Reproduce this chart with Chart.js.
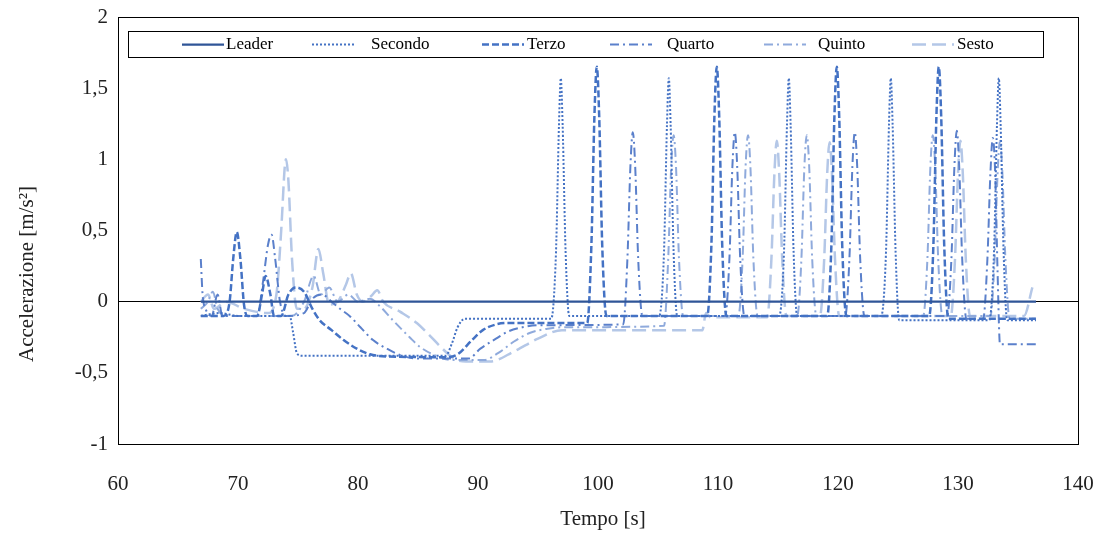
<!DOCTYPE html>
<html>
<head>
<meta charset="utf-8">
<script src="https://cdn.jsdelivr.net/npm/chart.js@4.4.0/dist/chart.umd.min.js"></script>
<style>
  body { margin: 0; background: #fff; }
  #wrap { width: 1107px; height: 535px; }
</style>
</head>
<body>
<div id="wrap"><canvas id="accel"></canvas></div>
<script>
// tempo [s], accelerazione [m/s2]
const seriesNames = ["Leader", "Secondo", "Terzo", "Quarto", "Quinto", "Sesto"];
const xTickValues = [60, 70, 80, 90, 100, 110, 120, 130, 140];
const xTickLabels = ["60", "70", "80", "90", "100", "110", "120", "130", "140"];
const yTickValues = [-1, -0.5, 0, 0.5, 1, 1.5, 2];
const yTickLabels = ["-1", "-0,5", "0", "0,5", "1", "1,5", "2"];

const leader = [[66.9, 0], [136.5, 0]];

const secondo = [
  [66.9, -0.1], [68.5, -0.08], [70, -0.1], [74.3, -0.1], [74.6, -0.22], [74.9, -0.36], [75.3, -0.38],
  [87.3, -0.38], [87.8, -0.3], [88.3, -0.18], [88.9, -0.12],
  [96.1, -0.12], [96.5, 0.35], [96.75, 1.25], [96.9, 1.57], [97.05, 1.25], [97.3, 0.35], [97.6, -0.1],
  [105.1, -0.1], [105.5, 0.35], [105.75, 1.25], [105.9, 1.57], [106.05, 1.25], [106.3, 0.35], [106.6, -0.1],
  [115.1, -0.1], [115.5, 0.35], [115.75, 1.25], [115.9, 1.57], [116.05, 1.25], [116.3, 0.35], [116.6, -0.1],
  [123.6, -0.1], [124.0, 0.35], [124.25, 1.25], [124.4, 1.57], [124.55, 1.25], [124.8, 0.35], [125.1, -0.13],
  [132.6, -0.13], [133.0, 0.35], [133.25, 1.25], [133.4, 1.57], [133.55, 1.25], [133.8, 0.35], [134.1, -0.13],
  [136.5, -0.13]
];

const terzo = [
  [66.9, -0.1], [68.8, -0.1], [69.3, 0.0], [69.6, 0.3], [69.9, 0.49], [70.2, 0.3], [70.5, -0.02], [70.8, -0.1],
  [71.6, -0.1], [72.0, 0.05], [72.3, 0.18], [72.7, 0.05], [73.0, -0.1], [73.6, -0.1], [74.2, 0.05], [74.8, 0.1],
  [75.5, 0.07], [76.2, -0.05], [76.8, -0.13], [77.8, -0.2], [78.8, -0.27], [79.9, -0.33], [81.0, -0.37],
  [82.5, -0.385], [87.3, -0.39], [88.3, -0.37], [89.5, -0.27], [90.4, -0.2], [91.5, -0.16], [92.5, -0.15],
  [99.1, -0.15], [99.45, 0.4], [99.7, 1.3], [99.9, 1.65], [100.1, 1.3], [100.35, 0.4], [100.7, -0.1],
  [109.1, -0.1], [109.45, 0.4], [109.7, 1.3], [109.9, 1.65], [110.1, 1.3], [110.35, 0.4], [110.7, -0.1],
  [119.1, -0.1], [119.45, 0.4], [119.7, 1.3], [119.9, 1.65], [120.1, 1.3], [120.35, 0.4], [120.7, -0.1],
  [127.6, -0.1], [127.95, 0.4], [128.2, 1.3], [128.4, 1.65], [128.6, 1.3], [128.85, 0.4], [129.2, -0.12],
  [136.5, -0.12]
];

const quarto = [
  [66.9, 0.3], [67.05, 0.05], [67.3, -0.05], [67.8, -0.1], [68.3, 0.05], [68.7, -0.1], [71.6, -0.1],
  [72.1, 0.15], [72.5, 0.4], [72.8, 0.47], [73.1, 0.3], [73.5, 0.0], [74.0, -0.1], [75.5, -0.08],
  [76.2, 0.02], [77.0, 0.05], [77.8, 0.0], [78.5, -0.05], [79.3, -0.1], [80.2, -0.18], [81.25, -0.27],
  [82.4, -0.33], [83.5, -0.375], [85.0, -0.4], [89.2, -0.4], [90.2, -0.33], [91.5, -0.26], [92.5, -0.21],
  [93.7, -0.18], [95.0, -0.165],
  [102.1, -0.16], [102.45, 0.3], [102.7, 0.95], [102.9, 1.19], [103.1, 0.95], [103.35, 0.3], [103.7, -0.1],
  [110.6, -0.1], [110.95, 0.3], [111.2, 0.95], [111.4, 1.19], [111.6, 0.95], [111.85, 0.3], [112.2, -0.1],
  [120.6, -0.1], [120.95, 0.3], [121.2, 0.95], [121.4, 1.19], [121.6, 0.95], [121.85, 0.3], [122.2, -0.1],
  [129.1, -0.1], [129.45, 0.3], [129.7, 0.95], [129.9, 1.2], [130.1, 0.95], [130.35, 0.3], [130.7, -0.12],
  [132.1, -0.12], [132.45, 0.3], [132.7, 0.9], [132.9, 1.15], [133.1, 0.9], [133.3, 0.2], [133.5, -0.3],
  [136.5, -0.3]
];

const quinto = [
  [66.9, -0.05], [67.5, 0.0], [67.9, 0.07], [68.3, -0.05], [69.0, -0.1], [74.5, -0.1], [75.5, 0.0],
  [76.3, 0.18], [76.9, 0.05], [77.6, 0.1], [78.3, 0.0], [79.2, 0.05], [80.0, 0.0], [81.0, 0.02],
  [81.8, -0.03], [82.9, -0.13], [84.3, -0.25], [85.2, -0.32], [86.5, -0.38], [87.8, -0.41], [90.5, -0.41],
  [91.7, -0.36], [93.0, -0.28], [94.3, -0.22], [95.8, -0.19], [97.0, -0.18],
  [105.5, -0.17], [105.85, 0.3], [106.1, 0.95], [106.3, 1.17], [106.5, 0.95], [106.75, 0.3], [107.1, -0.1],
  [111.7, -0.1], [112.05, 0.3], [112.3, 0.95], [112.5, 1.17], [112.7, 0.95], [112.95, 0.3], [113.3, -0.1],
  [116.6, -0.1], [116.95, 0.3], [117.2, 0.95], [117.4, 1.17], [117.6, 0.95], [117.85, 0.3], [118.2, -0.1],
  [127.1, -0.1], [127.45, 0.3], [127.7, 0.95], [127.9, 1.17], [128.1, 0.95], [128.35, 0.3], [128.7, -0.1],
  [132.7, -0.1], [133.05, 0.3], [133.3, 0.9], [133.5, 1.13], [133.7, 0.9], [133.95, 0.3], [134.3, -0.12],
  [136.5, -0.12]
];

const sesto = [
  [66.9, 0.0], [67.5, 0.05], [68.0, -0.05], [69.0, 0.0], [70.5, -0.05], [72.5, -0.08], [73.2, 0.05],
  [73.6, 0.5], [73.9, 0.95], [74.0, 1.0], [74.2, 0.85], [74.5, 0.3], [74.9, -0.05], [75.5, -0.05],
  [76.2, 0.1], [76.7, 0.37], [77.1, 0.2], [77.6, -0.02], [78.3, 0.0], [79.0, 0.12], [79.4, 0.2],
  [79.9, 0.05], [80.4, 0.0], [81.1, 0.04], [81.6, 0.08], [82.1, 0.0], [83.5, -0.07], [84.9, -0.15],
  [86.0, -0.24], [86.8, -0.31], [88.0, -0.4], [89.0, -0.42], [91.0, -0.42], [93.0, -0.35], [95.0, -0.26],
  [97.0, -0.2], [108.7, -0.2], [109.0, -0.08], [109.4, -0.11],
  [114.1, -0.11], [114.45, 0.3], [114.7, 0.9], [114.9, 1.13], [115.1, 0.9], [115.35, 0.3], [115.7, -0.1],
  [118.5, -0.1], [118.85, 0.3], [119.1, 0.9], [119.3, 1.12], [119.5, 0.9], [119.75, 0.3], [120.1, -0.1],
  [129.4, -0.1], [129.75, 0.3], [130.0, 0.9], [130.2, 1.13], [130.4, 0.9], [130.65, 0.3], [131.0, -0.1],
  [135.5, -0.1], [136.2, 0.1]
];

const seriesData = [leader, secondo, terzo, quarto, quinto, sesto];

// look of each series
const lineColors = ["#2F5597", "#4472C4", "#4472C4", "#5B80CB", "#8FAADC", "#B4C7E7"];
const lineDashes = [[], [2, 2], [7, 3], [9, 4, 2, 4], [9, 4, 2, 4], [14, 6]];
const lineWidths = [2.25, 2, 2.5, 2, 2, 2.5];

const FONT = "'Liberation Serif', 'Times New Roman', serif";

const frameAndLegend = {
  id: "frameAndLegend",
  afterDatasetsDraw(chart) {
    const {ctx, chartArea} = chart;
    ctx.save();
    ctx.strokeStyle = "#000";
    ctx.lineWidth = 1;
    ctx.setLineDash([]);
    ctx.strokeRect(chartArea.left + 0.5, chartArea.top + 0.5, chartArea.width, chartArea.height);

    // legend box inside the plot
    const box = {x: 128, y: 31, w: 915, h: 26};
    const sampleX = [182, 312, 482, 610, 764, 912];
    const textX = [226, 371, 527, 667, 818, 957];
    ctx.fillStyle = "#fff";
    ctx.fillRect(box.x, box.y, box.w, box.h);
    ctx.strokeRect(box.x + 0.5, box.y + 0.5, box.w, box.h);
    const cy = box.y + box.h / 2 + 0.5;
    ctx.font = "17px " + FONT;
    ctx.textBaseline = "middle";
    ctx.textAlign = "left";
    seriesNames.forEach((name, i) => {
      ctx.strokeStyle = lineColors[i];
      ctx.lineWidth = lineWidths[i];
      ctx.setLineDash(lineDashes[i]);
      ctx.beginPath();
      ctx.moveTo(sampleX[i], cy);
      ctx.lineTo(sampleX[i] + 42, cy);
      ctx.stroke();
      ctx.fillStyle = "#000";
      ctx.fillText(name, textX[i], cy);
    });

    // axis titles
    ctx.fillStyle = "#222";
    ctx.font = "21px " + FONT;
    ctx.textAlign = "center";
    ctx.fillText("Tempo [s]", 603, 519);
    ctx.translate(27, 274);
    ctx.rotate(-Math.PI / 2);
    ctx.fillText("Accelerazione [m/s²]", 0, 0);
    ctx.restore();
  }
};

new Chart(document.getElementById("accel"), {
  type: "scatter",
  data: {
    datasets: seriesData.map((pts, i) => ({
      label: seriesNames[i],
      data: pts.map(p => ({x: p[0], y: p[1]})),
      showLine: true,
      borderColor: lineColors[i],
      backgroundColor: lineColors[i],
      borderDash: lineDashes[i],
      borderWidth: lineWidths[i],
      pointRadius: 0,
      pointHoverRadius: 0,
      cubicInterpolationMode: "monotone",
      tension: 0.4
    }))
  },
  options: {
    responsive: true,
    maintainAspectRatio: false,
    animation: false,
    layout: {padding: {top: 17, right: 29, left: 0, bottom: 0}},
    plugins: {legend: {display: false}, tooltip: {enabled: false}},
    scales: {
      x: {
        type: "linear",
        min: 60,
        max: 140,
        afterFit(scale) {
          scale.height = 91;
          scale.paddingLeft = 0;
          scale.paddingRight = 0;
        },
        afterBuildTicks(scale) { scale.ticks = xTickValues.map(v => ({value: v})); },
        ticks: {
          padding: 28,
          color: "#222",
          font: {family: FONT, size: 21},
          callback: (v) => xTickLabels[xTickValues.indexOf(v)]
        },
        grid: {display: false, drawTicks: false},
        border: {display: false}
      },
      y: {
        type: "linear",
        min: -1,
        max: 2,
        afterFit(scale) {
          scale.width = 118;
          scale.paddingTop = 0;
          scale.paddingBottom = 0;
        },
        afterBuildTicks(scale) { scale.ticks = yTickValues.map(v => ({value: v})); },
        ticks: {
          padding: 10,
          color: "#222",
          font: {family: FONT, size: 21},
          callback: (v) => yTickLabels[yTickValues.indexOf(v)]
        },
        grid: {
          drawTicks: false,
          lineWidth: 1,
          color: (c) => (c.tick && c.tick.value === 0 ? "#000" : "rgba(0,0,0,0)")
        },
        border: {display: false}
      }
    }
  },
  plugins: [frameAndLegend]
});
</script>
</body>
</html>
